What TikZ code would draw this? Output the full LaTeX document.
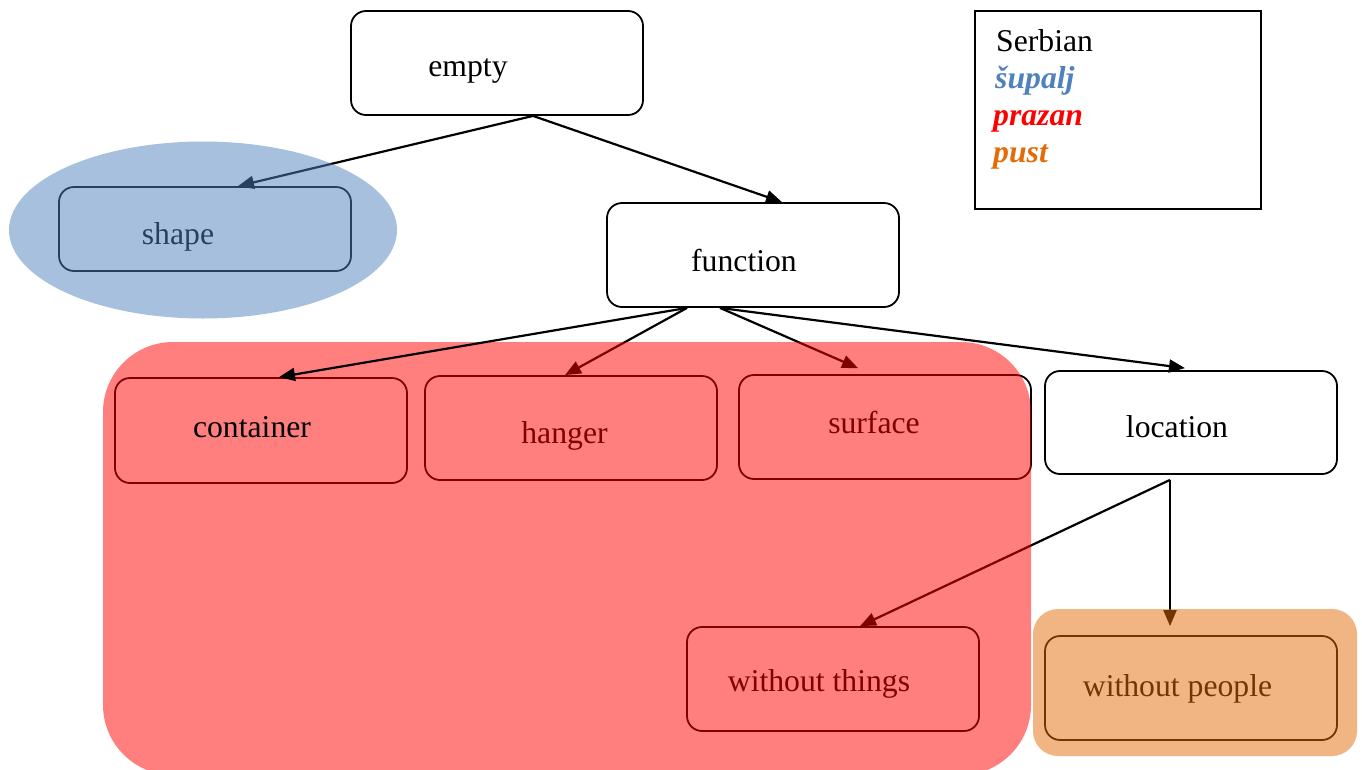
\documentclass[tikz,border=0pt]{standalone}
\usepackage{fontspec}
\setmainfont{Liberation Serif}
\usetikzlibrary{arrows.meta,calc}
\definecolor{ofblue}{HTML}{4F81BD}
\definecolor{oforange}{HTML}{E36C09}
\definecolor{ofred}{HTML}{FF0000}
\begin{document}
\begin{tikzpicture}[x=1pt,y=-1pt,
  box/.style={draw=black, line width=1.8pt, rounded corners=15pt, fill=white,
    minimum width=292pt, minimum height=104pt, inner sep=0pt},
  lbl/.style={anchor=base, inner sep=0pt, font=\fontsize{31.7}{38}\selectfont},
  leg/.style={anchor=base west, inner sep=0pt, font=\fontsize{31.7}{38}\selectfont},
  conn/.style={line width=2.2pt, -{Triangle[length=16pt,width=13pt]}},
  overlay/.style={opacity=0.5}]
\useasboundingbox (0,0) rectangle (1362,769);
% boxes
\node[box] (empty) at (497,63) {};
\node[box, minimum height=84pt] (shape) at (205,229) {};
\node[box] (function) at (753,255) {};
\node[box, minimum height=105pt] (container) at (261,430.5) {};
\node[box] (hanger) at (571,428) {};
\node[box] (surface) at (885,427) {};
\node[box, minimum height=103pt] (location) at (1191,422.5) {};
\node[box] (wthings) at (833,679) {};
\node[box] (wpeople) at (1191,688) {};
% labels
\node[lbl] (tempty) at (468,76) {empty};
\node[lbl] (tshape) at (178,244) {shape};
\node[lbl] (tfunction) at (744,271) {function};
\node[lbl] (thanger) at (564.5,443) {hanger};
\node[lbl] (tsurface) at (874,433) {surface};
\node[lbl] (tlocation) at (1177,437) {location};
\node[lbl] (twthings) at (819,691) {without things};
\node[lbl] (twpeople) at (1177.5,696) {without people};
% connection points
\coordinate (e0) at ([xshift=36pt]empty.south);
\coordinate (f0) at ([xshift=-66pt]function.south);
\coordinate (f1) at ([xshift=-33pt]function.south);
\coordinate (l0) at ([xshift=-21pt,yshift=-5pt]location.south);
% arrows
\draw[conn] (e0) -- ([xshift=33pt]shape.north);
\draw[conn] (e0) -- ([xshift=29pt]function.north);
\draw[conn] (f0) -- ([xshift=-6pt]hanger.north);
\draw[conn] (f1) -- ([xshift=-27pt,yshift=6pt]surface.north);
\draw[conn] (f1) -- ([xshift=-6pt,yshift=2pt]location.north);
\draw[conn] (l0) -- ([xshift=27pt]wthings.north);
\draw[conn] (l0) -- ([xshift=-21pt,yshift=9pt]wpeople.north);
% overlays
\fill[ofblue, overlay] (203,230) ellipse [x radius=194, y radius=88.5];
\fill[ofred, overlay, rounded corners=70pt] (103,342) rectangle (1031,775);
\fill[oforange, overlay, rounded corners=25pt] (1033,609) rectangle (1357,756);
% on top of overlay
\node[lbl] (tcontainer) at (252,437) {container};
\draw[conn] (f0) -- ([xshift=18pt]container.north);
% legend
\node[draw=black, line width=2pt, minimum width=286pt, minimum height=198pt, inner sep=0pt] (legend) at (1118,110) {};
\node[leg] (lserb) at (996,51) {Serbian};
\node[leg, text=ofblue, font=\fontsize{31.7}{38}\selectfont\bfseries\itshape] (lsup) at (995,88) {šupalj};
\node[leg, text=ofred, font=\fontsize{31.7}{38}\selectfont\bfseries\itshape] (lpra) at (993,125) {prazan};
\node[leg, text=oforange, font=\fontsize{31.7}{38}\selectfont\bfseries\itshape] (lpus) at (993,162) {pust};
\end{tikzpicture}
\end{document}
